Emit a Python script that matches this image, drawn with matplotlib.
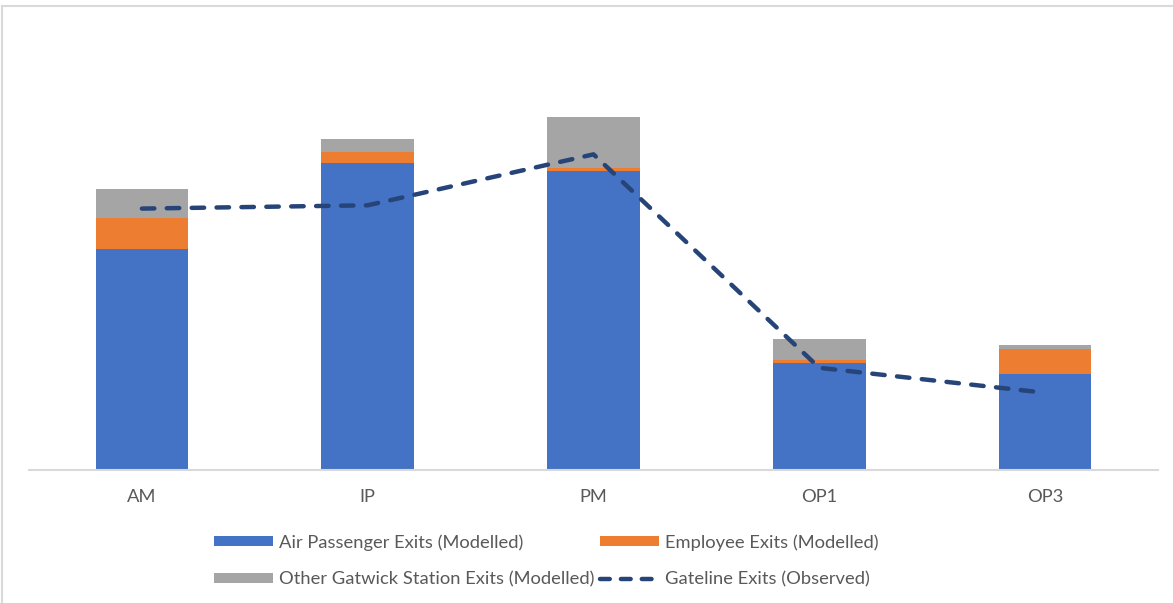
import numpy as np
import matplotlib
matplotlib.use('Agg')
import matplotlib.pyplot as plt
from matplotlib.patches import Patch
from matplotlib.lines import Line2D

plt.rcParams['font.family'] = ['Lato', 'DejaVu Sans']

# 数据（无纵轴刻度，按图中像素高度估读）
periods = ['AM', 'IP', 'PM', 'OP1', 'OP3']
air_pax = [220.5, 307.2, 298.8, 106.2, 95.8]
employee = [31.7, 10.6, 3.0, 3.3, 25.0]
other_gatwick = [28.3, 12.7, 51.4, 21.0, 3.4]
gateline = [261.2, 264.5, 315.5, 101.8, 76.8]

c_air = '#4472C4'
c_emp = '#ED7D31'
c_oth = '#A5A5A5'
c_line = '#264478'
c_text = '#595959'

fig = plt.figure(figsize=(11.73, 6.03), dpi=100)
W, H = 1173, 603
ax = fig.add_axes([29 / W, (H - 469.5) / H, (1158 - 29) / W, (469.5 - 20) / H])

x = np.arange(len(periods))
bw = 0.41
bottom2 = np.array(air_pax) + np.array(employee)
ax.bar(x, air_pax, bw, color=c_air, zorder=2)
ax.bar(x, employee, bw, bottom=air_pax, color=c_emp, zorder=2)
ax.bar(x, other_gatwick, bw, bottom=bottom2, color=c_oth, zorder=2)

ax.plot(x, gateline, color=c_line, lw=3.2, dashes=(2.8, 2.8),
        dash_capstyle='round', solid_joinstyle='round', zorder=3)

ax.set_xlim(-0.5, len(periods) - 0.5)
ax.set_ylim(0, 450)
ax.set_xticks(x)
ax.set_xticklabels(periods, fontsize=13.2, color=c_text)
ax.tick_params(axis='x', length=0, pad=14)
ax.set_yticks([])
for s in ['top', 'right', 'left']:
    ax.spines[s].set_visible(False)
ax.spines['bottom'].set_color('#D9D9D9')
ax.spines['bottom'].set_linewidth(1.5)

# 图例（按行排列）
h_air = Patch(facecolor=c_air)
h_emp = Patch(facecolor=c_emp)
h_oth = Patch(facecolor=c_oth)
h_line = Line2D([], [], color=c_line, lw=3.2, dashes=(2.2, 2.5), dash_capstyle='round')
leg = fig.legend([h_air, h_oth, h_emp, h_line],
                 ['Air Passenger Exits (Modelled)', 'Other Gatwick Station Exits (Modelled)',
                  'Employee Exits (Modelled)', 'Gateline Exits (Observed)'],
                 ncol=2, loc='upper left', bbox_to_anchor=(214 / W, 1 - 534 / H),
                 frameon=False, fontsize=13.2, handlelength=3.2, handleheight=0.5,
                 handletextpad=0.35, columnspacing=0.3, labelspacing=1.15,
                 borderpad=0, borderaxespad=0)
for t in leg.get_texts():
    t.set_color(c_text)

# 外框
fig.add_artist(Line2D([2 / W, 1], [1 - 6 / H, 1 - 6 / H], color='#D9D9D9', lw=1.5,
                      transform=fig.transFigure))
fig.add_artist(Line2D([2 / W, 2 / W], [0, 1 - 6 / H], color='#D9D9D9', lw=1.5,
                      transform=fig.transFigure))

fig.savefig('out.png', dpi=100)
